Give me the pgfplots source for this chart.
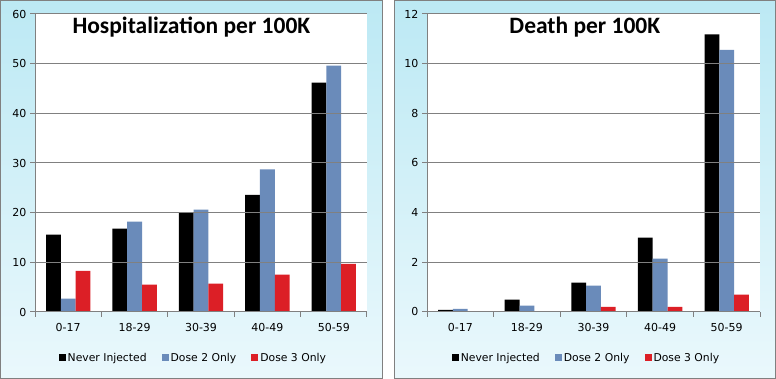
\documentclass[border=0pt]{standalone}
\usepackage{pgfplots}
\pgfplotsset{compat=1.18}
\usepackage{fontspec}
\setmainfont{DejaVu Sans}
\newfontfamily\titlefont{Carlito}
\definecolor{barblue}{RGB}{106,139,186}
\definecolor{barred}{RGB}{220,31,38}
\definecolor{gridgray}{RGB}{128,128,128}
\definecolor{paneltop}{RGB}{188,233,244}
\definecolor{panelbot}{RGB}{234,248,252}
\pgfplotsset{
  mybars/.style={
    scale only axis,
    height=298pt,
    ybar=0pt,
    bar width=14.8pt,
    xmin=-0.5, xmax=4.5,
    ymin=0,
    xtick={0,1,2,3,4},
    xticklabels={0-17,18-29,30-39,40-49,50-59},
    minor xtick={-0.5,0.5,1.5,2.5,3.5,4.5},
    major x tick style={draw=none},
    minor x tick style={draw=gridgray, line width=1pt},
    y tick style={draw=gridgray, line width=1pt},
    tick align=outside,
    major tick length=5pt,
    minor tick length=5pt,
    axis x line*=bottom,
    axis y line*=left,
    axis line style={draw=gridgray, line width=1pt, -},
    ymajorgrids,
    grid style={draw=gridgray, line width=1pt},
    axis on top,
    axis background/.style={fill=white},
    tick label style={font=\fontsize{11}{13}\selectfont},
    /pgf/number format/assume math mode=true,
    xticklabel style={yshift=-3pt},
    legend columns=3,
    legend style={draw=none, fill=none, font=\fontsize{10.8}{12}\selectfont,
      /tikz/every even column/.append style={column sep=13pt}},
    legend image code/.code={\fill[##1] (0pt,-3.5pt) rectangle (7pt,3.5pt);},
    title style={font=\titlefont\fontsize{23.5}{26}\selectfont\bfseries, anchor=center, yshift=-7pt},
  }
}
\begin{document}
\begin{tikzpicture}[x=1pt,y=1pt]
\fill[white] (0,0) rectangle (776,379);
\shade[top color=paneltop, bottom color=panelbot, draw=gridgray, line width=1pt] (0.5,0.5) rectangle (382,378.5);
\shade[top color=paneltop, bottom color=panelbot, draw=gridgray, line width=1pt] (394,0.5) rectangle (775.5,378.5);
\begin{axis}[mybars, at={(35pt,67pt)}, anchor=south west, width=332pt,
  ymax=60, ytick={0,10,...,60},
  title={Hospitalization per 100K}, title style={at={(0.471,0.96)}},
  legend style={at={(0.477,-0.154)}, anchor=center}]
\addplot[fill=black, draw=none] coordinates {(0,15.6) (1,16.8) (2,19.9) (3,23.6) (4,46.2)};
\addplot[fill=barblue, draw=none] coordinates {(0,2.7) (1,18.2) (2,20.6) (3,28.7) (4,49.6)};
\addplot[fill=barred, draw=none] coordinates {(0,8.3) (1,5.5) (2,5.7) (3,7.5) (4,9.7)};
\legend{Never Injected, Dose 2 Only, Dose 3 Only}
\end{axis}
\begin{axis}[mybars, at={(427pt,67pt)}, anchor=south west, width=333pt,
  ymax=12, ytick={0,2,...,12},
  title={Death per 100K}, title style={at={(0.474,0.96)}},
  legend style={at={(0.479,-0.154)}, anchor=center}]
\addplot[fill=black, draw=none] coordinates {(0,0.09) (1,0.5) (2,1.18) (3,2.99) (4,11.18)};
\addplot[fill=barblue, draw=none] coordinates {(0,0.13) (1,0.26) (2,1.06) (3,2.15) (4,10.56)};
\addplot[fill=barred, draw=none] coordinates {(0,0) (1,0) (2,0.21) (3,0.21) (4,0.70)};
\legend{Never Injected, Dose 2 Only, Dose 3 Only}
\end{axis}
\end{tikzpicture}
\end{document}
